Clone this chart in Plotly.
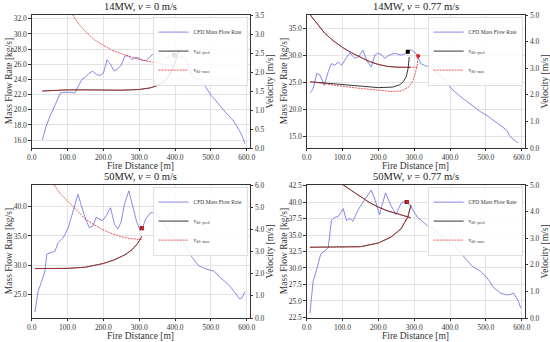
import plotly.graph_objects as go

# ---------------- data ----------------
titles = ["14MW, <i>v</i> = 0 m/s", "14MW, <i>v</i> = 0.77 m/s",
          "50MW, <i>v</i> = 0 m/s", "50MW, <i>v</i> = 0.77 m/s"]
x_title = "Fire Distance [m]"
yl_title = "Mass Flow Rate [kg/s]"
yr_title = "Velocity [m/s]"

# Panel 1
p1_x = [30,40,50,60,70,80,90,100,110,120,130,140,150,160,170,180,190,200,210,220,230,240,250,260,270,280,290,300,310,320,330,340,350,360,370,380,390,400,410,420,430,440,450,460,470,480,490,500,510,520,530,540,550,560,570,580,590,595]
p1_y = [16.0,17.8,19.0,20.0,21.2,22.2,22.3,22.3,22.3,22.2,23.2,24.0,24.3,24.8,25.1,24.7,24.5,24.8,26.6,26.0,25.1,25.4,25.9,27.1,27.1,26.6,26.9,26.8,26.5,26.5,27.0,27.4,27.5,27.3,26.9,26.8,27.5,27.0,26.9,27.0,26.7,25.6,24.3,24.1,23.9,23.4,22.6,21.9,21.4,20.8,20.2,19.7,19.2,18.7,18.0,17.2,16.2,15.5]
p1_pred_lo_x = [30,60,100,150,200,250,300,330,350,370,380,390,400,405,410]
p1_pred_lo_v = [1.50,1.52,1.53,1.53,1.52,1.52,1.54,1.58,1.64,1.76,1.86,2.02,2.25,2.42,2.58]
p1_max_up_x = [114,130,150,175,200,225,250,275,300,325,350,375,400,410]
p1_max_up_v = [3.51,3.28,3.06,2.85,2.70,2.57,2.48,2.40,2.33,2.28,2.23,2.19,2.15,2.14]
p1_mark_pred = (398, 27.2)
p1_mark_max = (402, 27.1)

# Panel 2
p2_x = [10,18,28,37,49,60,69,78,88,97,110,120,134,145,157,168,180,190,198,208,217,231,245,255,263,277,291,305,318,332,346,360,374,388,402,415,429,447,466,485,503,521,540,550,558,568,577,590]
p2_y = [23.1,23.9,26.7,26.4,24.5,27.0,28.5,28.2,28.8,28.2,29.5,30.5,29.5,29.8,31.0,29.0,27.9,30.1,30.4,30.2,29.5,30.1,30.4,30.3,30.1,30.4,31.1,30.4,28.5,28.1,27.9,27.0,26.1,25.3,24.0,23.2,22.4,21.5,20.5,19.6,18.9,18.0,17.0,16.5,16.2,15.0,14.5,13.8]
p2_pred_up_x = [10,30,50,75,100,125,150,175,200,225,250,275,290]
p2_pred_up_v = [5.0,4.68,4.32,4.02,3.78,3.58,3.40,3.25,3.14,3.07,3.04,3.03,3.03]
p2_max_up_x = [10,30,50,75,100,125,150,175,200,225,250,275,300,310]
p2_max_up_v = [5.0,4.68,4.32,4.02,3.78,3.58,3.40,3.25,3.14,3.07,3.04,3.03,3.03,3.05]
p2_pred_lo_x = [10,50,100,150,200,240,260,270,278,283,286]
p2_pred_lo_v = [2.49,2.44,2.37,2.31,2.27,2.29,2.38,2.50,2.70,3.00,3.42]
p2_max_lo_x = [10,50,100,150,200,240,265,285,295,303,308,311]
p2_max_lo_v = [2.49,2.41,2.32,2.24,2.17,2.12,2.15,2.30,2.50,2.80,3.10,3.45]
p2_mark_pred = (282, 30.7)
p2_mark_max = (311, 29.9)

# Panel 3
p3_x = [9,18,28,37,42,55,65,74,88,102,115,129,143,152,161,171,180,189,198,208,220,231,240,249,259,271,282,292,300,309,318,332,346,365,383,402,415,429,448,466,489,508,526,549,568,579,586,595]
p3_y = [22.0,25.6,27.3,29.0,31.9,32.2,32.4,33.9,34.7,36.4,39.3,42.1,39.3,37.6,36.4,36.7,38.2,37.9,37.6,38.5,39.8,37.0,36.2,37.3,40.5,42.7,39.9,37.6,36.3,36.4,37.9,39.0,38.9,37.6,35.6,34.4,34.2,33.3,31.3,29.9,29.3,29.0,27.9,26.7,25.3,24.3,24.4,25.5]
p3_max_up_x = [63,80,100,125,150,175,200,225,250,275,300,309]
p3_max_up_v = [6.0,5.6,5.28,4.88,4.46,4.20,3.97,3.80,3.67,3.58,3.54,3.53]
p3_pred_lo_x = [9,50,100,150,200,230,260,280,295,307]
p3_pred_lo_v = [2.23,2.23,2.24,2.29,2.46,2.62,2.85,3.08,3.35,3.68]
p3_mark_pred = (307, 36.3)
p3_mark_max = (308, 36.3)

# Panel 4
p4_x = [9,18,28,39,51,60,69,78,88,102,111,120,129,143,157,180,191,203,220,235,249,263,277,291,309,337,355,383,411,438,461,485,503,522,540,558,569,577,591,597]
p4_y = [23.1,28.0,29.8,32.1,32.6,33.1,37.2,37.7,37.8,39.0,37.2,37.5,37.1,38.8,40.0,41.8,40.3,38.1,41.4,39.5,38.1,39.8,40.2,39.3,37.7,36.4,35.9,34.4,33.4,31.8,30.3,29.5,28.5,27.0,26.2,25.9,26.0,26.2,24.9,23.9]
p4_up_x = [102,125,150,175,200,225,250,275,290]
p4_up_v = [5.0,4.80,4.55,4.34,4.17,4.03,3.93,3.83,3.77]
p4_lo_x = [9,50,100,150,200,235,263,282,291]
p4_lo_v = [2.66,2.66,2.66,2.68,2.82,3.04,3.35,3.80,4.25]
p4_mark_pred = (279, 40.0)
p4_mark_max = (280, 40.0)

left_ranges = [[14.95, 32.5], [12.9, 37.5], [21.0, 43.7], [22.4, 42.6]]
left_dticks = [2, 5, 5, 2.5]
left_tick0 = [16, 15, 25, 22.5]
right_ranges = [[0, 3.5], [0, 5], [0, 6], [0, 5]]
right_dticks = [0.5, 1, 1, 1]

# ---------------- styling ----------------
FONT = "Liberation Serif"
BLUE = "rgba(90,90,225,0.72)"
BLACK = "rgba(20,20,20,0.85)"
RED = "rgba(230,40,40,0.8)"

panels = [
    dict(cx=p1_x, cy=p1_y,
         pred=[(p1_pred_lo_x, p1_pred_lo_v)],
         mx=[(p1_pred_lo_x, p1_pred_lo_v), (p1_max_up_x, p1_max_up_v)],
         mp=p1_mark_pred, mm=p1_mark_max),
    dict(cx=p2_x, cy=p2_y,
         pred=[(p2_pred_lo_x, p2_pred_lo_v), (p2_pred_up_x, p2_pred_up_v)],
         mx=[(p2_max_lo_x, p2_max_lo_v), (p2_max_up_x, p2_max_up_v)],
         mp=p2_mark_pred, mm=p2_mark_max),
    dict(cx=p3_x, cy=p3_y,
         pred=[(p3_pred_lo_x, p3_pred_lo_v)],
         mx=[(p3_pred_lo_x, p3_pred_lo_v), (p3_max_up_x, p3_max_up_v)],
         mp=p3_mark_pred, mm=p3_mark_max),
    dict(cx=p4_x, cy=p4_y,
         pred=[(p4_lo_x, p4_lo_v), (p4_up_x, p4_up_v)],
         mx=[(p4_lo_x, p4_lo_v), (p4_up_x, p4_up_v)],
         mp=p4_mark_pred, mm=p4_mark_max),
]

W, H = 550, 342
x_px = [[31.7, 250.0], [306.7, 525.0]]
y_px = [[15.0, 148.0], [185.0, 318.0]]
xdoms = [[a / W, b / W] for a, b in x_px]
ydoms = [[1 - b / H, 1 - a / H] for a, b in y_px]

fig = go.Figure()
layout = dict(width=W, height=H, margin=dict(l=0, r=0, t=0, b=0, autoexpand=False),
              paper_bgcolor="white", plot_bgcolor="white",
              font=dict(family=FONT, size=8, color="#222"),
              showlegend=True, annotations=[])

for i, p in enumerate(panels):
    n = i + 1
    xa = "x" if n == 1 else f"x{n}"
    yl = "y" if n == 1 else f"y{2*n-1}"
    yr = f"y{2*n}"
    leg = "legend" if n == 1 else f"legend{n}"
    fig.add_trace(go.Scatter(x=p["cx"], y=p["cy"], mode="lines", name="CFD Mass Flow Rate",
                             line=dict(color=BLUE, width=1), xaxis=xa, yaxis=yl, legend=leg))
    for k, (bx, bv) in enumerate(p["pred"]):
        fig.add_trace(go.Scatter(x=bx, y=bv, mode="lines", name="v<sub>dil−pred</sub>",
                                 line=dict(color=BLACK, width=1), xaxis=xa, yaxis=yr,
                                 legend=leg, showlegend=(k == 0)))
    for k, (bx, bv) in enumerate(p["mx"]):
        fig.add_trace(go.Scatter(x=bx, y=bv, mode="lines", name="v<sub>dil−max</sub>",
                                 line=dict(color=RED, width=1, dash="2px,1px"), xaxis=xa, yaxis=yr,
                                 legend=leg, showlegend=(k == 0)))
    fig.add_trace(go.Scatter(x=[p["mp"][0]], y=[p["mp"][1]], mode="markers",
                             marker=dict(symbol="square", color="black", size=4),
                             xaxis=xa, yaxis=yl, showlegend=False, legend=leg))
    fig.add_trace(go.Scatter(x=[p["mm"][0]], y=[p["mm"][1]], mode="markers",
                             marker=dict(symbol="circle", color="#e02020", size=4),
                             xaxis=xa, yaxis=yl, showlegend=False, legend=leg))

    col = i % 2
    row = i // 2
    xd = xdoms[col]
    yd = ydoms[row]
    axis_common = dict(showline=True, linecolor="#333", linewidth=0.8, automargin=False,
                       ticks="outside", ticklen=2.5, tickwidth=0.8, tickcolor="#333",
                       tickfont=dict(family=FONT, size=7.5, color="#333"), zeroline=False)
    xkey = "xaxis" if n == 1 else f"xaxis{n}"
    ylkey = "yaxis" if n == 1 else f"yaxis{2*n-1}"
    yrkey = f"yaxis{2*n}"
    layout[xkey] = dict(domain=xd, anchor=yl, range=[0, 609], tick0=0, dtick=100,
                        tickformat=".1f", showgrid=True, gridcolor="#e3e3e3", gridwidth=0.6,
                        mirror=True, **axis_common)
    layout[ylkey] = dict(domain=yd, anchor=xa, range=left_ranges[i], tick0=left_tick0[i],
                         dtick=left_dticks[i], tickformat=".1f", showgrid=True,
                         gridcolor="#e3e3e3", gridwidth=0.6, **axis_common)
    layout[yrkey] = dict(domain=yd, anchor=xa, overlaying=yl, side="right",
                         range=right_ranges[i], tick0=0, dtick=right_dticks[i],
                         tickformat=".1f", showgrid=False, **axis_common)
    layout[leg] = dict(x=xd[1] - 2 / W, y=yd[1] - 2 / H, xanchor="right", yanchor="top",
                       bgcolor="rgba(255,255,255,0.85)", bordercolor="#cccccc", borderwidth=0.6,
                       font=dict(family=FONT, size=5.5, color="#333"),
                       tracegroupgap=0, itemwidth=30)
    xl, xr = x_px[col]
    yt, yb = y_px[row]
    tfont = dict(family=FONT, size=9.5, color="#333")
    layout["annotations"] += [
        dict(text=titles[i], x=(xl + xr) / 2 / W, y=1 - (yt - 1) / H, xref="paper", yref="paper",
             xanchor="center", yanchor="bottom", showarrow=False,
             font=dict(family=FONT, size=10.5, color="#222")),
        dict(text=x_title, x=(xl + xr) / 2 / W, y=1 - (yb + 17.5) / H, xref="paper", yref="paper",
             xanchor="center", yanchor="middle", showarrow=False, font=tfont),
        dict(text=yl_title, x=(xl - 23) / W, y=1 - (yt + yb) / 2 / H, xref="paper", yref="paper",
             xanchor="center", yanchor="middle", textangle=-90, showarrow=False, font=tfont),
        dict(text=yr_title, x=(xr + 19) / W, y=1 - (yt + yb) / 2 / H, xref="paper", yref="paper",
             xanchor="center", yanchor="middle", textangle=-90, showarrow=False, font=tfont),
    ]

fig.update_layout(**layout)
fig.write_html("out.html", config={"displayModeBar": False},
               post_script="document.body.style.margin='0';document.body.style.padding='0';")
